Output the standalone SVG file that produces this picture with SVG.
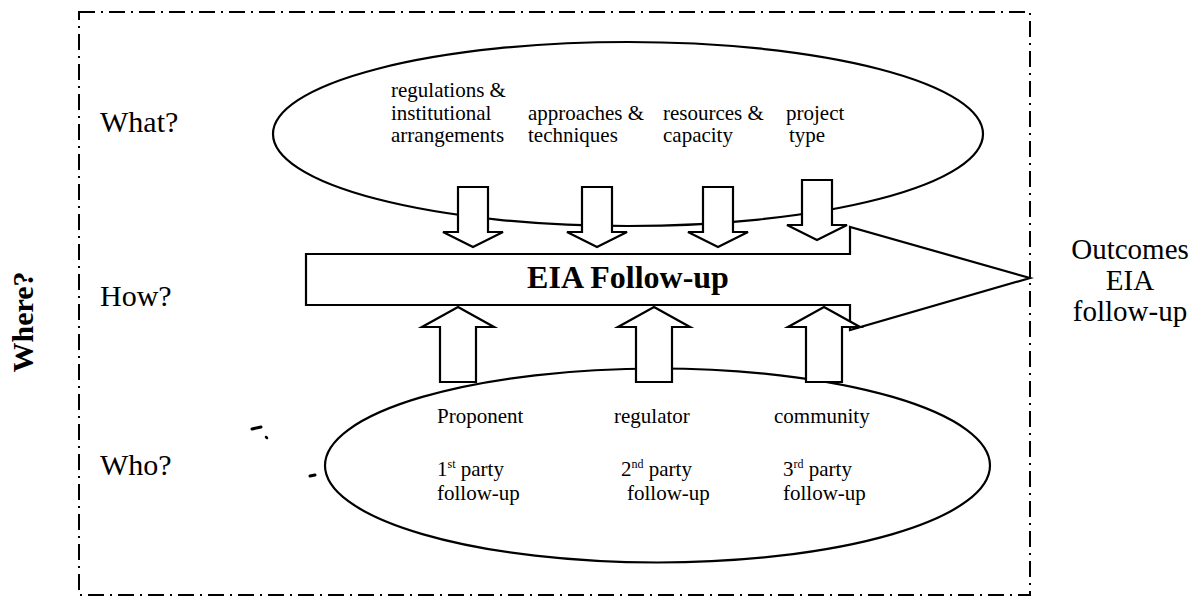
<svg xmlns="http://www.w3.org/2000/svg" width="1199" height="598" viewBox="0 0 1199 598">
  <style>
    .frame { fill: none; stroke: #000; stroke-width: 2; stroke-dasharray: 16 6 2 6; }
    .shape { fill: #fff; stroke: #000; stroke-width: 2.2; stroke-linejoin: miter; }
    .label { font-family: "Liberation Serif", "Times New Roman", serif; fill: #000; }
    .q { font-size: 30px; }
    .item { font-size: 21px; }
    .sup { font-size: 12px; }
    .bold { font-weight: bold; }
  </style>
  <defs>
    <!-- block arrow pointing down, origin at top-left of shaft -->
    <path id="arrowDown" d="M0,0 H30 V45 H45 L15,60 L-15,45 H0 Z"/>
    <!-- block arrow pointing up, origin at tip -->
    <path id="arrowUp" d="M0,0 L36,20 H18 V75 H-18 V20 H-36 Z"/>
  </defs>

  <rect width="1199" height="598" fill="#fff"/>

  <!-- dash-dot frame -->
  <g id="frame">
    <rect class="frame" x="79" y="12" width="951" height="583"/>
  </g>

  <!-- side labels -->
  <g id="questions" class="label q">
    <text x="100" y="132">What?</text>
    <text x="100" y="306">How?</text>
    <text x="100" y="475">Who?</text>
  </g>
  <g id="where">
    <text class="label q bold" transform="translate(33,322) rotate(-90)" text-anchor="middle">Where?</text>
  </g>

  <!-- what: elements of follow-up -->
  <g id="what">
    <ellipse class="shape" cx="628" cy="134" rx="355" ry="92"/>
    <g class="label item">
      <text x="391" y="97">regulations &amp;</text>
      <text x="391" y="119.5">institutional</text>
      <text x="391" y="142">arrangements</text>
      <text x="528" y="119.5">approaches &amp;</text>
      <text x="528" y="142">techniques</text>
      <text x="663" y="119.5">resources &amp;</text>
      <text x="663" y="142">capacity</text>
      <text x="786" y="119.5">project</text>
      <text x="789" y="142">type</text>
    </g>
  </g>

  <!-- who: parties of follow-up -->
  <g id="who">
    <ellipse class="shape" cx="657.5" cy="465.5" rx="332.5" ry="97"/>
    <g class="label item">
      <text x="437" y="423">Proponent</text>
      <text x="614" y="423">regulator</text>
      <text x="774" y="423">community</text>
      <text x="437" y="476">1<tspan class="sup" dy="-8">st</tspan><tspan dy="8"> party</tspan></text>
      <text x="437" y="500">follow-up</text>
      <text x="621" y="476">2<tspan class="sup" dy="-8">nd</tspan><tspan dy="8"> party</tspan></text>
      <text x="627" y="500">follow-up</text>
      <text x="783" y="476">3<tspan class="sup" dy="-8">rd</tspan><tspan dy="8"> party</tspan></text>
      <text x="783" y="500">follow-up</text>
    </g>
  </g>

  <!-- how: main process arrow -->
  <g id="how">
    <path class="shape" d="M306,254 H850 V227 L1030,278 L850,330 V305 H306 Z"/>
    <text class="label bold" x="628" y="288" font-size="32" text-anchor="middle">EIA Follow-up</text>
  </g>

  <!-- input arrows -->
  <g id="connectors" class="shape">
    <use href="#arrowDown" transform="translate(458,187)"/>
    <use href="#arrowDown" transform="translate(582,187)"/>
    <use href="#arrowDown" transform="translate(703,187)"/>
    <use href="#arrowDown" transform="translate(802,180)"/>
    <use href="#arrowUp" transform="translate(458,307)"/>
    <use href="#arrowUp" transform="translate(654,307)"/>
    <use href="#arrowUp" transform="translate(824,307)"/>
  </g>

  <!-- outcome -->
  <g id="outcomes" class="label" font-size="29" text-anchor="middle">
    <text x="1130" y="259">Outcomes</text>
    <text x="1130" y="290">EIA</text>
    <text x="1130" y="321">follow-up</text>
  </g>

  <!-- stray marks -->
  <g id="marks" stroke="#000" stroke-linecap="round">
    <path d="M252,429 L261,427" stroke-width="3"/>
    <path d="M266,437 L267,438" stroke-width="2.5"/>
    <path d="M310,476 L315,475" stroke-width="3"/>
  </g>
</svg>
